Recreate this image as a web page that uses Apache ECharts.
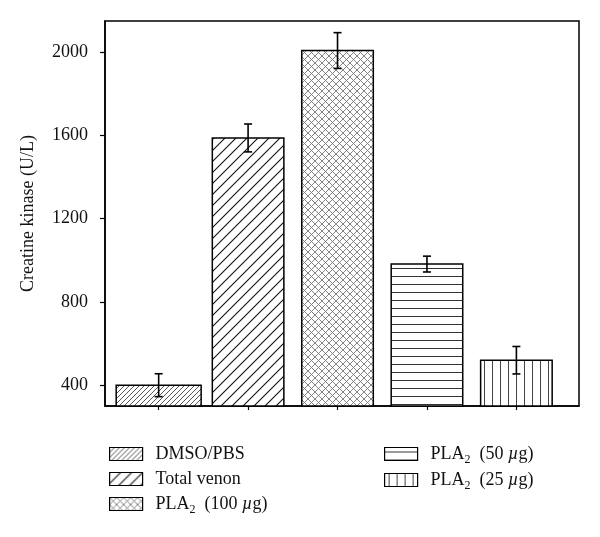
<!DOCTYPE html>
<html>
<head>
<meta charset="utf-8">
<script src="https://cdn.jsdelivr.net/npm/echarts@6/dist/echarts.min.js"></script>
<style>
  html, body { margin: 0; padding: 0; background: #fff; }
  #chart { width: 600px; height: 537px; }
</style>
</head>
<body>
<div id="chart"></div>
<script>
// data
const groups = ['DMSO/PBS', 'Total venon', 'PLA2 (100 µg)', 'PLA2 (50 µg)', 'PLA2 (25 µg)']
const positions = [1, 2, 3, 4, 5]
const ckValues = [400, 1588, 2008, 982, 520]
const ckErrors = [55, 67, 86, 38, 66]
const yTicks = [400, 800, 1200, 1600, 2000]

// bar widths in x-axis units (first bar is drawn a bit wider in the original)
const BAR_WIDTHS = [0.95, 0.8, 0.8, 0.8, 0.8]
const FONT = '"Liberation Serif", "DejaVu Serif", serif'

const makePattern = (size, draw) => {
  const c = document.createElement('canvas')
  c.width = size
  c.height = size
  const ctx = c.getContext('2d')
  ctx.fillStyle = '#fff'
  ctx.fillRect(0, 0, size, size)
  draw(ctx, size)
  return { image: c, repeat: 'repeat' }
}

const diag = (color, width) => (ctx, s) => {
  ctx.strokeStyle = color
  ctx.lineWidth = width
  ctx.beginPath()
  ctx.moveTo(-1, s + 1); ctx.lineTo(s + 1, -1)
  ctx.moveTo(-1, 1); ctx.lineTo(1, -1)
  ctx.moveTo(s - 1, s + 1); ctx.lineTo(s + 1, s - 1)
  ctx.stroke()
}

const patterns = [
  makePattern(5, diag('#555', 1)),
  makePattern(11, diag('#111', 1.1)),
  makePattern(7, (ctx, s) => {
    diag('#777', 0.9)(ctx, s)
    ctx.beginPath()
    ctx.moveTo(-1, -1); ctx.lineTo(s + 1, s + 1)
    ctx.moveTo(s - 1, -1); ctx.lineTo(s + 1, 1)
    ctx.moveTo(-1, s - 1); ctx.lineTo(1, s + 1)
    ctx.stroke()
  }),
  makePattern(8, (ctx, s) => {
    ctx.strokeStyle = '#333'
    ctx.lineWidth = 1
    ctx.beginPath()
    ctx.moveTo(0, 4.5); ctx.lineTo(s, 4.5)
    ctx.stroke()
  }),
  makePattern(8, (ctx, s) => {
    ctx.strokeStyle = '#444'
    ctx.lineWidth = 1
    ctx.beginPath()
    ctx.moveTo(4.5, 0); ctx.lineTo(4.5, s)
    ctx.stroke()
  }),
]

const renderBar = (params, api) => {
  const i = api.value(2)
  const x = api.value(0)
  const w = BAR_WIDTHS[i]
  const tl = api.coord([x - w / 2, api.value(1)])
  const br = api.coord([x + w / 2, 300])
  return {
    type: 'rect',
    shape: { x: tl[0], y: tl[1], width: br[0] - tl[0], height: br[1] - tl[1] },
    style: { fill: patterns[i], stroke: '#000', lineWidth: 1.5 },
  }
}

const renderErr = (params, api) => {
  const x = api.value(0)
  const hi = api.coord([x, api.value(1) + api.value(2)])
  const lo = api.coord([x, api.value(1) - api.value(2)])
  const cap = 4
  const style = { stroke: '#000', lineWidth: 1.6 }
  return {
    type: 'group',
    children: [
      { type: 'line', shape: { x1: hi[0], y1: hi[1], x2: lo[0], y2: lo[1] }, style },
      { type: 'line', shape: { x1: hi[0] - cap, y1: hi[1], x2: hi[0] + cap, y2: hi[1] }, style },
      { type: 'line', shape: { x1: lo[0] - cap, y1: lo[1], x2: lo[0] + cap, y2: lo[1] }, style },
    ],
  }
}

const legendLabel = (name) => {
  const m = name.match(/^PLA2 \((\d+) µg\)$/)
  if (!m) return name
  return 'PLA{s|2}  (' + m[1] + ' {i|µ}g)'
}

const legendCommon = {
  orient: 'vertical',
  icon: 'rect',
  itemWidth: 33,
  itemHeight: 13,
  itemGap: 3,
  formatter: legendLabel,
  textStyle: {
    fontFamily: FONT,
    fontSize: 18,
    color: '#111',
    lineHeight: 22,
    padding: [0, 0, 0, 8],
    rich: {
      s: { fontFamily: FONT, fontSize: 12, verticalAlign: 'bottom', lineHeight: 22, padding: [0, 0, -1, 0], color: '#111' },
      i: { fontFamily: FONT, fontSize: 18, fontStyle: 'italic', color: '#111' },
    },
  },
  itemStyle: { borderColor: '#000', borderWidth: 1.2 },
}

const chart = echarts.init(document.getElementById('chart'), null, { renderer: 'canvas' })

chart.setOption({
  animation: false,
  backgroundColor: '#fff',
  grid: {
    left: 105, right: 21, top: 21, bottom: 131,
    show: true, borderColor: '#000', borderWidth: 1.5,
  },
  legend: [
    Object.assign({ left: 104, top: 438, data: groups.slice(0, 3) }, legendCommon),
    Object.assign({ left: 379, top: 438, data: groups.slice(3) }, legendCommon),
  ],
  xAxis: {
    type: 'value',
    min: 0.4,
    max: 5.7,
    splitLine: { show: false },
    axisLine: { onZero: false, lineStyle: { color: '#000', width: 1.5 } },
    axisTick: { customValues: positions, length: 4, lineStyle: { color: '#000', width: 1.2 } },
    axisLabel: { show: false },
  },
  yAxis: {
    type: 'value',
    min: 300,
    max: 2150,
    name: 'Creatine kinase (U/L)',
    nameLocation: 'middle',
    nameGap: 68,
    nameTextStyle: { fontFamily: FONT, fontSize: 18, color: '#111' },
    splitLine: { show: false },
    axisLine: { show: true, lineStyle: { color: '#000', width: 1.5 } },
    axisTick: { customValues: yTicks, length: 5, lineStyle: { color: '#000', width: 1.2 } },
    axisLabel: {
      customValues: yTicks,
      margin: 17,
      formatter: (v) => String(v),
      fontFamily: FONT,
      fontSize: 18,
      color: '#111',
    },
  },
  series: groups.flatMap((g, i) => [
    {
      name: g,
      type: 'custom',
      renderItem: renderBar,
      itemStyle: { color: patterns[i], borderColor: '#000', borderWidth: 1.2 },
      encode: { x: 0, y: 1 },
      data: [[positions[i], ckValues[i], i]],
      z: 2,
    },
    {
      name: g,
      type: 'custom',
      renderItem: renderErr,
      encode: { x: 0, y: [1] },
      data: [[positions[i], ckValues[i], ckErrors[i]]],
      z: 3,
    },
  ]),
})
</script>
</body>
</html>
